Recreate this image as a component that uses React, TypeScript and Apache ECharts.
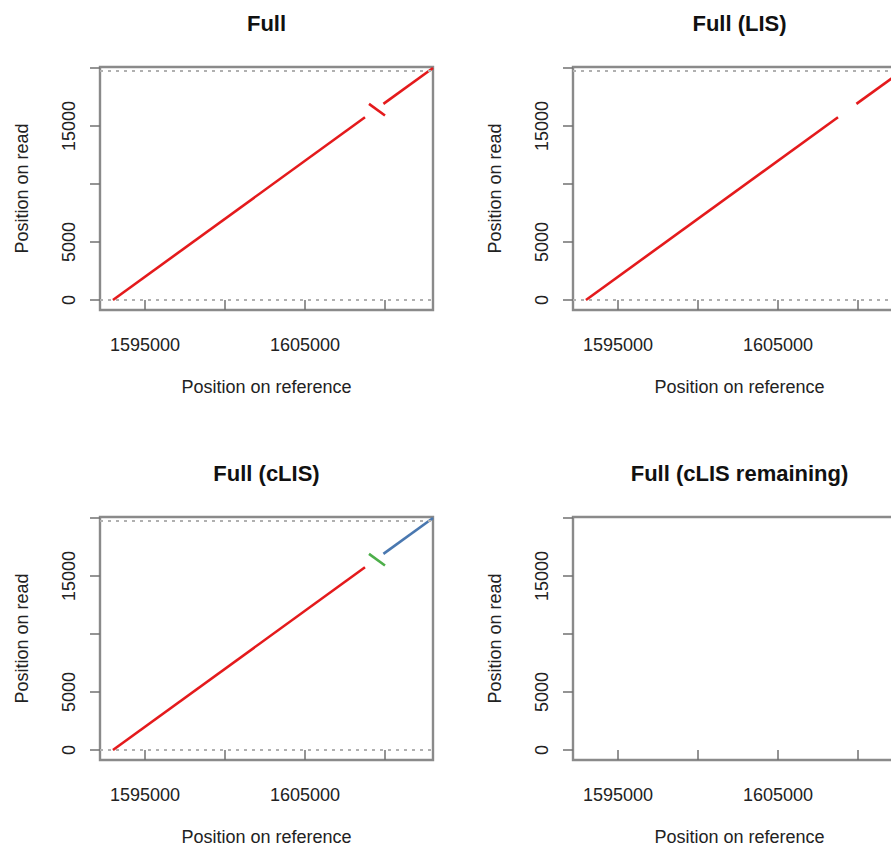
import React, { useEffect, useRef } from "react";
import * as echarts from "echarts";

// ---- data ----
const panelTitles = ["Full", "Full (LIS)", "Full (cLIS)", "Full (cLIS remaining)"];
const xTickValues = [1595000, 1600000, 1605000, 1610000];
const xLabelValues = [1595000, 1605000];
const yTickValues = [0, 5000, 10000, 15000, 20000];
const yLabelValues = [0, 5000, 15000];
const xRange = [1592190, 1613000];
const yRange = [-860, 20080];
const readBounds = [0, 19750];

// main diagonal alignment block
const mainRef = [1593000, 1608750];
const mainRead = [0, 15750];
// small inverted block
const invRef = [1609000, 1610000];
const invRead = [16900, 15900];
// tail block
const tailRef = [1609900, 1613000];
const tailRead = [16900, 20000];

const RED = "#E41A1C";
const GREEN = "#4DAF4A";
const BLUE = "#4A78B0";
const FONT = '"Liberation Sans", Arial, Helvetica, sans-serif';

const zip = (a: number[], b: number[]) => a.map((v, i) => [v, b[i]]);

export default function App() {
  const ref = useRef<HTMLDivElement>(null);
  useEffect(() => {
    document.body.style.margin = "0";
    const chart = echarts.init(ref.current!, null, { renderer: "svg" });
    const dx = 473;
    const dy = 450;
    const offsets = [
      [0, 0],
      [dx, 0],
      [0, dy],
      [dx, dy],
    ];
    const grids = offsets.map(([ox, oy]) => ({
      left: 100 + ox,
      top: 67 + oy,
      width: 333,
      height: 243,
      show: true,
      borderColor: "#8a8a8a",
      borderWidth: 2.4,
      backgroundColor: "transparent",
    }));
    const xAxes = offsets.map((_, i) => ({
      type: "value",
      gridIndex: i,
      min: xRange[0],
      max: xRange[1],
      axisLine: { show: false },
      splitLine: { show: false },
      axisTick: {
        show: true,
        length: 10,
        customValues: xTickValues,
        lineStyle: { color: "#707070", width: 1.5 },
      },
      axisLabel: {
        customValues: xLabelValues,
        margin: 26,
        fontSize: 18,
        fontFamily: FONT,
        color: "#222",
        formatter: (v: number) => String(v),
      },
    }));
    const yAxes = offsets.map((_, i) => ({
      type: "value",
      gridIndex: i,
      min: yRange[0],
      max: yRange[1],
      axisLine: { show: false },
      splitLine: { show: false },
      axisTick: {
        show: true,
        length: 10,
        customValues: yTickValues,
        lineStyle: { color: "#707070", width: 1.5 },
      },
      axisLabel: {
        customValues: yLabelValues,
        rotate: 90,
        margin: 22,
        fontSize: 18,
        fontFamily: FONT,
        color: "#222",
        formatter: (v: number) => String(v),
      },
    }));
    const seg = (i: number, data: number[][], color: string, withBounds = false) => ({
      type: "line",
      xAxisIndex: i,
      yAxisIndex: i,
      data,
      showSymbol: false,
      symbol: "none",
      lineStyle: { color, width: 2.6 },
      silent: true,
      ...(withBounds
        ? {
            markLine: {
              silent: true,
              symbol: "none",
              label: { show: false },
              lineStyle: { color: "#b0b0b0", type: [3, 5], width: 2 },
              data: readBounds.map((v) => ({ yAxis: v })),
            },
          }
        : {}),
    });
    const series = [
      seg(0, zip(mainRef, mainRead), RED, true),
      seg(0, zip(invRef, invRead), RED),
      seg(0, zip(tailRef, tailRead), RED),
      seg(1, zip(mainRef, mainRead), RED, true),
      seg(1, zip(tailRef, tailRead), RED),
      seg(2, zip(mainRef, mainRead), RED, true),
      seg(2, zip(invRef, invRead), GREEN),
      seg(2, zip(tailRef, tailRead), BLUE),
    ];
    const graphic: any[] = [];
    offsets.forEach(([ox, oy], i) => {
      graphic.push({
        type: "text",
        x: 266.5 + ox,
        y: 23 + oy,
        style: {
          text: panelTitles[i],
          font: `bold 22px ${FONT}`,
          fill: "#111",
          align: "center",
          verticalAlign: "middle",
        },
      });
      graphic.push({
        type: "text",
        x: 266.5 + ox,
        y: 387 + oy,
        style: {
          text: "Position on reference",
          font: `18px ${FONT}`,
          fill: "#222",
          align: "center",
          verticalAlign: "middle",
        },
      });
      graphic.push({
        type: "text",
        x: 22 + ox,
        y: 188.5 + oy,
        rotation: Math.PI / 2,
        style: {
          text: "Position on read",
          font: `18px ${FONT}`,
          fill: "#222",
          align: "center",
          verticalAlign: "middle",
        },
      });
    });
    chart.setOption({
      animation: false,
      backgroundColor: "#ffffff",
      grid: grids,
      xAxis: xAxes,
      yAxis: yAxes,
      series,
      graphic,
    });
    return () => chart.dispose();
  }, []);
  return (
    <div style={{ width: 891, height: 849, overflow: "hidden", position: "relative" }}>
      <div ref={ref} style={{ width: 930, height: 849 }} />
    </div>
  );
}
